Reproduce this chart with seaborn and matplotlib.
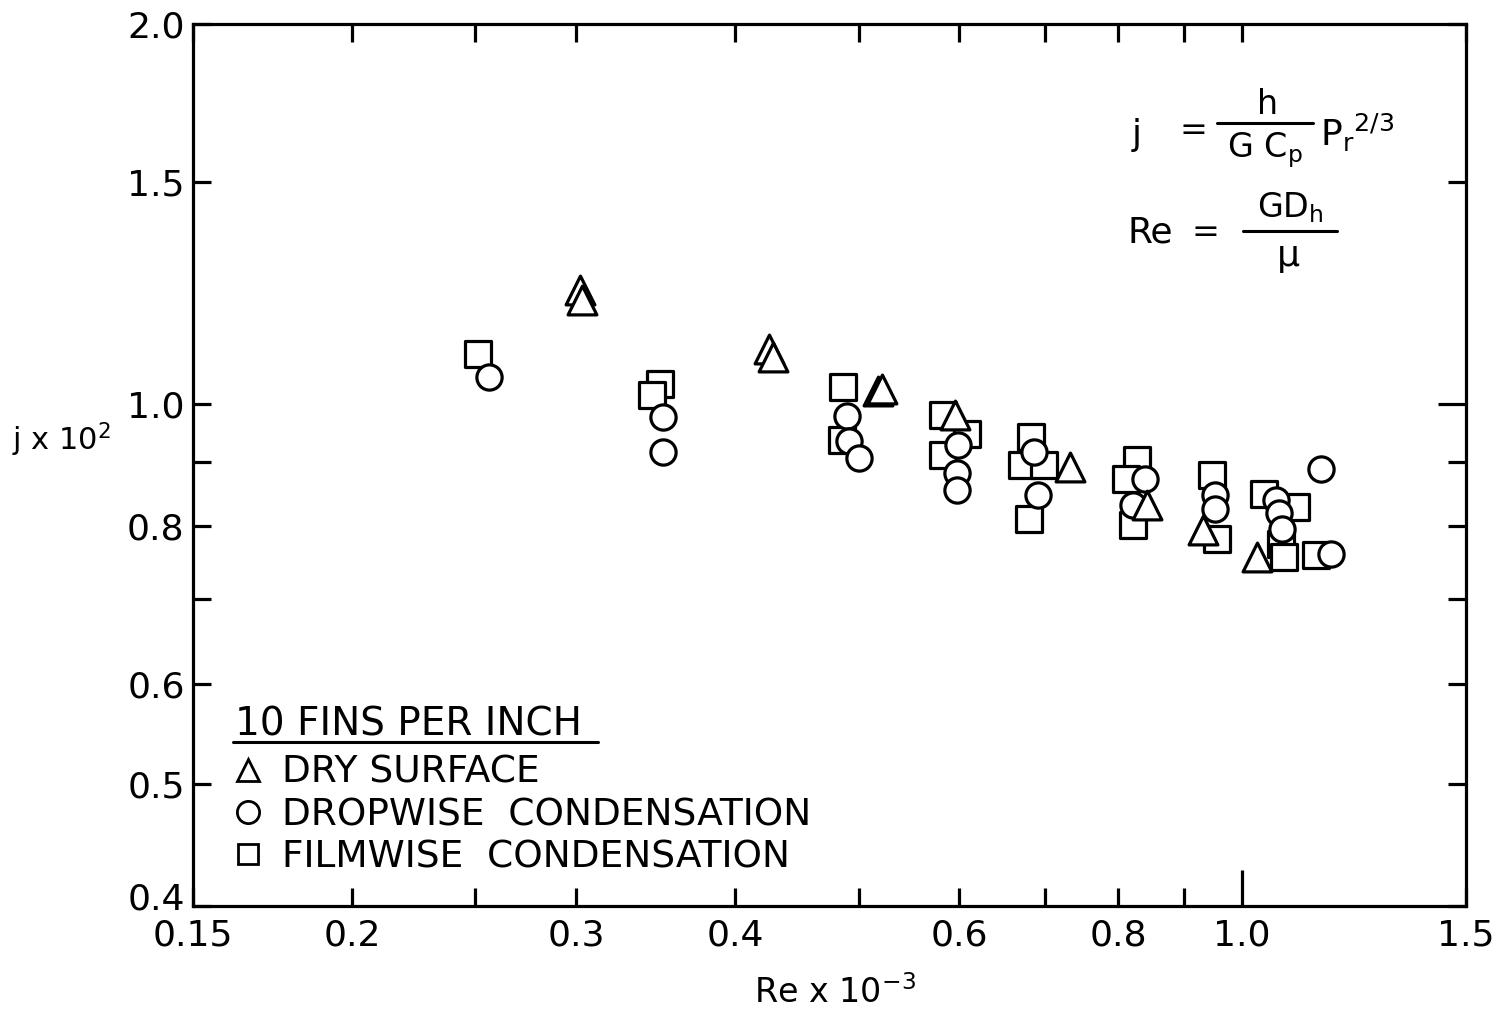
import matplotlib
matplotlib.use("Agg")
import matplotlib.pyplot as plt
import matplotlib.transforms as mtransforms
import seaborn as sns
import pandas as pd
from matplotlib.lines import Line2D

# ---------------- data (Re x 10^-3, j x 10^2) ----------------
dry_re = [0.302, 0.303, 0.425, 0.428, 0.518, 0.522, 0.595, 0.733, 0.843, 0.932, 1.027]
dry_j = [1.232, 1.209, 1.106, 1.090, 1.024, 1.028, 0.980, 0.891, 0.831, 0.794, 0.756]

drop_re = [0.256, 0.351, 0.351, 0.490, 0.491, 0.500, 0.598, 0.597, 0.597, 0.687,
           0.692, 0.839, 0.821, 0.952, 0.952, 1.064, 1.069, 1.076, 1.153, 1.174]
drop_j = [1.051, 0.977, 0.916, 0.978, 0.935, 0.906, 0.928, 0.882, 0.855, 0.916,
          0.847, 0.872, 0.831, 0.847, 0.825, 0.839, 0.820, 0.796, 0.888, 0.760]

film_re = [0.251, 0.349, 0.344, 0.486, 0.485, 0.582, 0.608, 0.582, 0.683, 0.672, 0.699,
           0.681, 0.828, 0.811, 0.821, 0.947, 0.956, 1.041, 1.103, 1.074, 1.079, 1.143]
film_j = [1.096, 1.037, 1.017, 1.032, 0.936, 0.980, 0.947, 0.911, 0.942, 0.895, 0.895,
          0.810, 0.903, 0.872, 0.802, 0.878, 0.781, 0.848, 0.828, 0.774, 0.756, 0.759]

series_names = ["DRY SURFACE", "DROPWISE  CONDENSATION", "FILMWISE  CONDENSATION"]
legend_title = "10 FINS PER INCH"

x_ticks = [0.15, 0.2, 0.25, 0.3, 0.4, 0.5, 0.6, 0.7, 0.8, 0.9, 1.0, 1.5]
x_labels = ["0.15", "0.2", "", "0.3", "0.4", "", "0.6", "", "0.8", "", "1.0", "1.5"]
y_ticks = [0.4, 0.5, 0.6, 0.7, 0.8, 0.9, 1.0, 1.5, 2.0]
y_labels = ["0.4", "0.5", "0.6", "", "0.8", "", "1.0", "1.5", "2.0"]

# ---------------- style ----------------
sns.set_theme(style="ticks")
plt.rcParams["font.family"] = ["DejaVu Sans"]
plt.rcParams["mathtext.default"] = "regular"
for key in ["text.color", "axes.labelcolor", "xtick.color", "ytick.color",
            "axes.edgecolor", "legend.labelcolor"]:
    plt.rcParams[key] = "black"

W, H = 1493, 1017
fig = plt.figure(figsize=(W / 100, H / 100), dpi=100)
ax = fig.add_axes([193 / W, 1 - 906 / H, (1466 - 193) / W, (906 - 24) / H])

LW = 2.3
INK = "black"

df_film = pd.DataFrame({"Re": film_re, "j": film_j})
df_drop = pd.DataFrame({"Re": drop_re, "j": drop_j})
df_dry = pd.DataFrame({"Re": dry_re, "j": dry_j})

sns.scatterplot(data=df_film, x="Re", y="j", marker="s", s=330, facecolor="white",
                edgecolor=INK, linewidth=LW, ax=ax, zorder=3)
sns.scatterplot(data=df_drop, x="Re", y="j", marker="o", s=330, facecolor="white",
                edgecolor=INK, linewidth=LW, ax=ax, zorder=4)
sns.scatterplot(data=df_dry, x="Re", y="j", marker="^", s=430, facecolor="white",
                edgecolor=INK, linewidth=LW, ax=ax, zorder=5)

ax.set_xscale("log")
ax.set_yscale("log")
ax.set_xlim(0.15, 1.5)
ax.set_ylim(0.4, 2.0)
ax.set_xticks(x_ticks)
ax.set_xticklabels(x_labels)
ax.set_yticks(y_ticks)
ax.set_yticklabels(y_labels)
ax.minorticks_off()
ax.set_xlabel("")
ax.set_ylabel("")

for sp in ax.spines.values():
    sp.set_visible(True)
    sp.set_linewidth(LW)
    sp.set_color(INK)

ax.tick_params(axis="both", which="major", direction="in", top=True, right=True,
               length=13, width=LW, color=INK, labelsize=26, labelcolor=INK)
ax.tick_params(axis="x", pad=9)
ax.tick_params(axis="y", pad=6)
# longer tick at 1.0
xt = ax.xaxis.get_major_ticks()
xt[10].tick1line.set_markersize(26)
yt = ax.yaxis.get_major_ticks()
yt[6].tick2line.set_markersize(20)

# nudge the bottom y label (0.4) up a little, as in the original
ylabs = ax.get_yticklabels()
ylabs[0].set_transform(ylabs[0].get_transform() +
                       mtransforms.ScaledTranslation(0, 10 / 100, fig.dpi_scale_trans))


def ftxt(x, y, s, size, ha="center", va="center", **kw):
    fig.text(x / W, 1 - y / H, s, fontsize=size, ha=ha, va=va, color=INK, **kw)


def fline(x0, x1, y, lw=2.2):
    fig.add_artist(Line2D([x0 / W, x1 / W], [1 - y / H, 1 - y / H],
                          transform=fig.transFigure, color=INK, lw=lw))


# axis labels
ftxt(835, 993, r"Re x 10$^{-3}$", 24)
ftxt(12, 440, r"j x 10$^{2}$", 22, ha="left")

# formulas
ftxt(1137, 135, "j", 26)
ftxt(1193, 130, "=", 24)
fline(1217, 1313, 123)
ftxt(1268, 104, "h", 24)
ftxt(1265, 150, r"G C$_p$", 24)
ftxt(1357, 133, r"P$_r$$^{2/3}$", 26)

ftxt(1150, 233, "Re", 26)
ftxt(1205, 233, "=", 24)
fline(1243, 1337, 231)
ftxt(1290, 208, r"GD$_h$", 24)
ftxt(1288, 258, r"$\mu$", 26)

# legend
handles = [
    Line2D([], [], ls="none", marker="^", ms=16, mfc="white", mec=INK, mew=2.0),
    Line2D([], [], ls="none", marker="o", ms=16, mfc="white", mec=INK, mew=2.0),
    Line2D([], [], ls="none", marker="s", ms=15, mfc="white", mec=INK, mew=2.0),
]
leg = ax.legend(handles, series_names, loc="center left",
                bbox_to_anchor=((233 - 193) / 1273, (906 - 815) / 882), frameon=False,
                fontsize=27, handlelength=0.8, handletextpad=0.5,
                labelspacing=0.17, borderpad=0, borderaxespad=0)
for t in leg.get_texts():
    t.set_color(INK)
ftxt(235, 724, legend_title, 28, ha="left")
fline(233, 598, 742)

fig.savefig("out.png", dpi=100)
